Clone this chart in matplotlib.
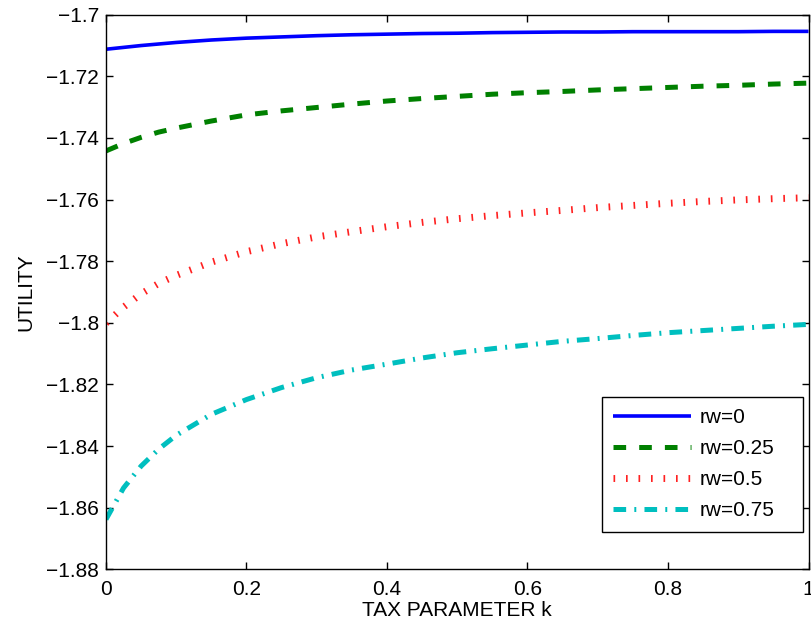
import matplotlib
matplotlib.use("Agg")
import matplotlib.pyplot as plt
from matplotlib.ticker import FuncFormatter, FixedLocator

plt.rcParams['font.family'] = ['Liberation Sans', 'DejaVu Sans']
plt.rcParams['lines.scale_dashes'] = False

# tax parameter k
k = [0, 0.025, 0.05, 0.075, 0.1, 0.15, 0.2, 0.25, 0.3, 0.35, 0.4, 0.45, 0.5,
     0.55, 0.6, 0.65, 0.7, 0.75, 0.8, 0.85, 0.9, 0.95, 1.0]

rw0 = [-1.7112, -1.7106, -1.7100, -1.7095, -1.7090, -1.7082, -1.7076, -1.7072,
       -1.7068, -1.7065, -1.7063, -1.7061, -1.7060, -1.7058, -1.7057, -1.7056,
       -1.7056, -1.7055, -1.7055, -1.7055, -1.7055, -1.7054, -1.7054]
rw025 = [-1.7442, -1.7418, -1.7398, -1.7381, -1.7368, -1.7345, -1.7325, -1.7312,
         -1.7301, -1.7290, -1.7280, -1.7272, -1.7265, -1.7258, -1.7253, -1.7249,
         -1.7244, -1.7240, -1.7236, -1.7232, -1.7229, -1.7225, -1.7222]
rw05 = [-1.8001, -1.7949, -1.7906, -1.7872, -1.7846, -1.7803, -1.7769, -1.7743,
        -1.7721, -1.7704, -1.7688, -1.7674, -1.7662, -1.7652, -1.7643, -1.7635,
        -1.7626, -1.7619, -1.7612, -1.7606, -1.7601, -1.7597, -1.7594]
rw075 = [-1.8638, -1.8536, -1.8465, -1.8410, -1.8365, -1.8297, -1.8249, -1.8210,
         -1.8178, -1.8153, -1.8134, -1.8114, -1.8097, -1.8084, -1.8072, -1.8060,
         -1.8051, -1.8041, -1.8032, -1.8025, -1.8018, -1.8011, -1.8005]

labels = ['rw=0', 'rw=0.25', 'rw=0.5', 'rw=0.75']
xticks = [0, 0.2, 0.4, 0.6, 0.8, 1]
yticks = [-1.88, -1.86, -1.84, -1.82, -1.80, -1.78, -1.76, -1.74, -1.72, -1.70]

fig = plt.figure(figsize=(8.12, 6.27), dpi=100)
ax = fig.add_axes([0.1305, 0.0920, 0.8652, 0.8845])

ax.plot(k, rw0, color='#0000ff', lw=2.6, solid_capstyle='butt', label=labels[0])
ax.plot(k, rw025, color='#008000', lw=3.6, dashes=(9.1, 9.4),
        dash_capstyle='butt', label=labels[1])
ax.plot(k, rw05, color='#ff2020', lw=5.0, dashes=(1.2, 7.8),
        dash_capstyle='butt', label=labels[2])
ax.plot(k, rw075, color='#00bfbf', lw=3.6, dashes=(9.1, 5.9, 1.4, 5.9),
        dash_capstyle='butt', label=labels[3])

ax.set_xlim(0, 1)
ax.set_ylim(-1.88, -1.70)
ax.xaxis.set_major_locator(FixedLocator(xticks))
ax.yaxis.set_major_locator(FixedLocator(yticks))
fmt = FuncFormatter(lambda v, p: ('%g' % round(v, 4)).replace('-', '\u2212'))
ax.xaxis.set_major_formatter(fmt)
ax.yaxis.set_major_formatter(fmt)

ax.tick_params(direction='in', length=5, width=1, top=True, right=True,
               labelsize=15, colors='black')
ax.tick_params(axis='y', pad=5)
ax.tick_params(axis='x', pad=8)
for s in ax.spines.values():
    s.set_linewidth(1.0)
    s.set_color('black')

ax.set_xlabel('TAX PARAMETER k', fontsize=15, labelpad=1)
ax.set_ylabel('UTILITY', fontsize=15, labelpad=8)

leg = ax.legend(loc='lower left', bbox_to_anchor=(0.7056, 0.0678, 0.2861, 0.2),
                mode='expand', borderaxespad=0, fontsize=15, handlelength=3.75,
                handletextpad=0.38, labelspacing=0.58, borderpad=0.55,
                fancybox=False, framealpha=1, edgecolor='black')
leg.get_frame().set_linewidth(1.0)

fig.savefig('out.png', dpi=100)
